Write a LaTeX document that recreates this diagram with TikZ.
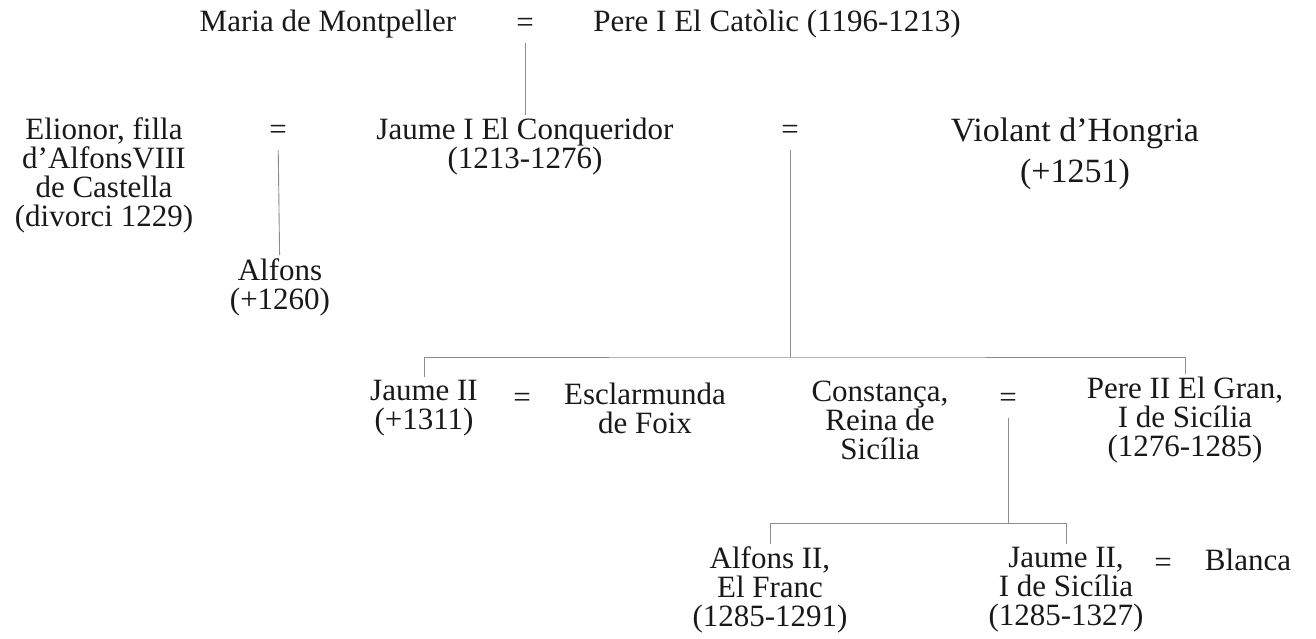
\documentclass[tikz,border=0pt]{standalone}
\usepackage{fontspec}
\setmainfont{Liberation Serif}
\usepackage{tikz}
\tikzset{person/.style = {align=center, text=black!90, inner sep=3pt, font=\fontsize{31pt}{29pt}\selectfont}}
\tikzset{bigperson/.style = {person, font=\fontsize{34pt}{41pt}\selectfont}}
\tikzset{wed/.style = {person, minimum height=36pt}}
\tikzset{edge/.style = {draw=black!45, line width=0.9pt}}

\begin{document}
\begin{tikzpicture}[x=1pt, y=-1pt]
                \useasboundingbox (0,0) rectangle (1316,638);
                \node[person] (maria) at (328,24) {Maria de Montpeller};
                \node[wed] (w1) at (525,25) {=};
                \node[person] (pere) at (777,24) {Pere I El Catòlic (1196-1213)};
                \node[person] (jaume) at (525,147) {Jaume I El Conqueridor\\(1213-1276)};
                \draw[edge] (w1) -- (jaume);
                \node[person] (elionor) at (104,175) {Elionor, filla\\d’AlfonsVIII\\de Castella\\(divorci 1229)};
                \node[wed] (w2) at (278,132) {=};
                \node[person] (alfons) at (280,287) {Alfons\\(+1260)};
                \draw[edge] (w2) -- (alfons);
                \node[wed] (w3) at (790,132) {=};
                \node[bigperson] (violant) at (1075,154) {Violant d’Hongria\\(+1251)};
                \coordinate (kids) at (790,357);
                \draw[edge] (w3) -- (kids);
                \node[person] (jaumeb) at (424,408) {Jaume II\\(+1311)};
                \node[wed] (w4) at (522,400) {=};
                \node[person] (esclar) at (645,408) {Esclarmunda\\de Foix};
                \node[person] (const) at (880,420) {Constança,\\Reina de\\Sicília};
                \node[wed] (w5) at (1008,400) {=};
                \node[person] (pereb) at (1185,420) {Pere II El Gran,\\I de Sicília\\(1276-1285)};
                \draw[edge] (jaumeb.north) |- (kids) -| (pereb.north);
                \coordinate (grandkids) at (1008,523);
                \draw[edge] (w5) -- (grandkids);
                \node[person] (alfonsb) at (770,590) {Alfons II,\\El Franc\\(1285-1291)};
                \node[person] (jaumec) at (1066,590) {Jaume II,\\I de Sicília\\(1285-1327)};
                \draw[edge] (alfonsb.north) |- (grandkids) -| (jaumec.north);
                \node[wed] (w6) at (1163,565) {=};
                \node[person] (blanca) at (1248,560) {Blanca};
            \end{tikzpicture}
\end{document}
